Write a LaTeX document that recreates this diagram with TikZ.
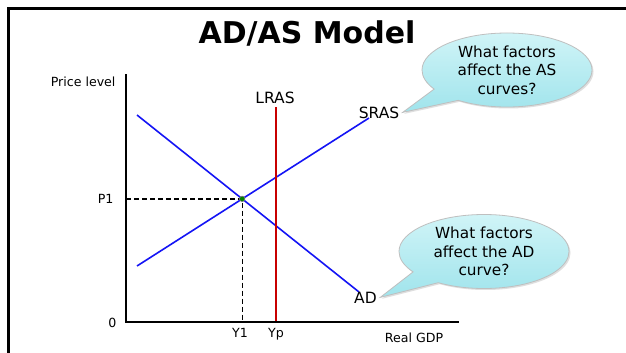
\documentclass[tikz,border=0pt]{standalone}
\usepackage{fontspec}
\setmainfont{DejaVu Sans}
\usepackage{tikz}
\usetikzlibrary{calc}
\usetikzlibrary{shapes}
\usetikzlibrary{shapes.callouts}
\usetikzlibrary{shadows}
\usetikzlibrary{positioning}

\definecolor{bubbletop}{RGB}{208,244,247}
\definecolor{bubblebot}{RGB}{160,228,236}
\definecolor{lrasred}{RGB}{200,0,0}
\definecolor{curveblue}{RGB}{20,20,245}

\tikzset{
  curve/.style={draw=curveblue, line width=1.6pt},
  guide/.style={draw=black, line width=1.4pt, dash pattern=on 5pt off 3pt},
  small/.style={font=\fontsize{12.6}{14}\selectfont, anchor=base},
  big/.style={font=\fontsize{15.5}{18}\selectfont, anchor=base},
  bubble/.style={ellipse callout, draw=gray!50, line width=0.8pt, top color=bubbletop, bottom color=bubblebot,
    minimum width=170pt, minimum height=74pt, inner sep=0pt, align=center,
    callout pointer arc=24, font=\fontsize{15.3}{18.5}\selectfont,
    drop shadow={opacity=0.25, shadow xshift=1.5pt, shadow yshift=-1.5pt}}
}

\begin{document}
\begin{tikzpicture}[x=1pt, y=-1pt]
\useasboundingbox (0,0) rectangle (626,353);
\path[fill=white] (0,0) rectangle (626,353);

% frame and title
\path[draw, line width=2.4pt] (8.5,353) -- (8.5,8.5) -- (626,8.5);
\node[anchor=base, font=\fontsize{30}{32}\selectfont\bfseries] (title) at (307,44) {AD/AS Model};

% axes
\coordinate (ytop) at (126,74);
\coordinate (origin) at (126,322);
\coordinate (xend) at (459,322);
\path[draw, line width=2pt] (ytop) -- (origin) -- (xend);

\coordinate (ad1) at (137,115);
\coordinate (ad2) at (359,292);
\coordinate (sras1) at (137,266);
\coordinate (sras2) at (369,118);
\coordinate (eq) at (intersection of ad1--ad2 and sras1--sras2);
\coordinate (lrastop) at (275.5,107);
\coordinate (lrasbot) at (275.5,321);

\path[guide] (origin |- eq) -- (eq) -- (eq |- origin);
\path[curve] (ad1) -- (ad2);
\path[curve] (sras1) -- (sras2);
\path[draw=lrasred, line width=2pt] (lrastop) -- (lrasbot);
\node[circle, fill=green!50!black, draw=gray, line width=0.6pt, inner sep=0pt, minimum size=5.5pt] (e) at (eq) {};

% axis labels
\node[small, anchor=base east] (plbl) at (119,86) {Price level};
\node[small, anchor=base east] (zero) at (120,327) {0};
\node[small, anchor=base east] (p1) at (117,203) {P1};
\node[small] (y1) at (240,337) {Y1};
\node[small] (ypl) at (276,337) {Yp};
\node[small] (gdp) at (414,342) {Real GDP};

\node[big] (lraslbl) at (275,103) {LRAS};
\node[big] (sraslbl) at (379,118) {SRAS};
\node[big] (adlbl) at (365.5,303) {AD};

% callouts
\node[bubble, callout absolute pointer={(sraslbl.east)}] (ascall) at (507,70) {What factors\\affect the AS\\curves?};
\node[bubble, callout absolute pointer={(adlbl.east)}] (adcall) at (484,251.5) {What factors\\affect the AD\\curve?};
\end{tikzpicture}
\end{document}
